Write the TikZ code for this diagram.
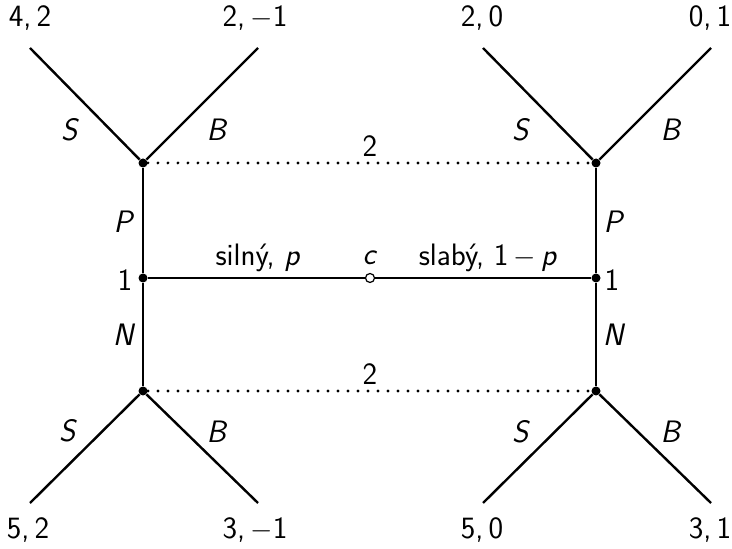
\documentclass[tikz,border=0pt]{standalone}
\usepackage{fontspec}
\begin{document}
\begin{tikzpicture}[x=0.5pt, y=-0.5pt, font=\sffamily\fontsize{15.5}{18}\selectfont,
    edge/.style={line width=1.2pt},
    infoset/.style={line width=1.6pt, line cap=round, dash pattern=on 0pt off 5pt},
    dot/.style={circle, fill, inner sep=0pt, minimum size=4.5pt},
    chance/.style={circle, draw, fill=white, line width=0.6pt, inner sep=0pt, minimum size=4.5pt},
    lbl/.style={inner sep=1pt}]
  \useasboundingbox (0,0) rectangle (732,549);

  % decision nodes
  \node[chance] (c) at (370,278) {};
  \node[dot] (L1) at (143,278) {};
  \node[dot] (R1) at (596,278) {};
  \node[dot] (LP) at (143,163) {};
  \node[dot] (LN) at (143,391) {};
  \node[dot] (RP) at (596,163) {};
  \node[dot] (RN) at (596,391) {};

  % leaf ends
  \coordinate (LPS) at (30,48);   \coordinate (LPB) at (258,48);
  \coordinate (RPS) at (483,48);  \coordinate (RPB) at (711,48);
  \coordinate (LNS) at (30,503);  \coordinate (LNB) at (258,503);
  \coordinate (RNS) at (483,503); \coordinate (RNB) at (711,503);

  % edges
  \draw[edge] (c) -- (L1);
  \draw[edge] (c) -- (R1);
  \draw[edge] (L1) -- (LP);
  \draw[edge] (L1) -- (LN);
  \draw[edge] (R1) -- (RP);
  \draw[edge] (R1) -- (RN);
  \draw[edge] (LP) -- (LPS);
  \draw[edge] (LP) -- (LPB);
  \draw[edge] (RP) -- (RPS);
  \draw[edge] (RP) -- (RPB);
  \draw[edge] (LN) -- (LNS);
  \draw[edge] (LN) -- (LNB);
  \draw[edge] (RN) -- (RNS);
  \draw[edge] (RN) -- (RNB);

  % information sets
  \draw[infoset] (LP) -- (RP);
  \draw[infoset] (LN) -- (RN);

  % labels
  \node[lbl] (i2a) at (370,146) {2};
  \node[lbl] (i2b) at (370,374) {2};
  \node[lbl] (nc) at (370,258) {\textit{c}};
  \node[lbl] (ns) at (258,258) {silný, \textit{p}};
  \node[lbl] (nw) at (488,258) {slabý, 1\,$-$\,\textit{p}};
  \node[lbl] (n1l) at (125,280) {1};
  \node[lbl] (n1r) at (612,280) {1};
  \node[lbl] (aLP) at (124,222) {\textit{P}};
  \node[lbl] (aLN) at (124,335) {\textit{N}};
  \node[lbl] (aRP) at (614,222) {\textit{P}};
  \node[lbl] (aRN) at (614,335) {\textit{N}};
  \node[lbl] (sLP) at (70,130) {\textit{S}};
  \node[lbl] (bLP) at (217,130) {\textit{B}};
  \node[lbl] (sRP) at (521,130) {\textit{S}};
  \node[lbl] (bRP) at (671,130) {\textit{B}};
  \node[lbl] (sLN) at (68,431) {\textit{S}};
  \node[lbl] (bLN) at (217,432) {\textit{B}};
  \node[lbl] (sRN) at (521,432) {\textit{S}};
  \node[lbl] (bRN) at (671,432) {\textit{B}};

  % payoffs
  \node[lbl] (pLPS) at (30,18) {4,\,2};
  \node[lbl] (pLPB) at (255,18) {2,\,$-$1};
  \node[lbl] (pRPS) at (482,18) {2,\,0};
  \node[lbl] (pRPB) at (710,18) {0,\,1};
  \node[lbl] (pLNS) at (28,530) {5,\,2};
  \node[lbl] (pLNB) at (255,530) {3,\,$-$1};
  \node[lbl] (pRNS) at (482,530) {5,\,0};
  \node[lbl] (pRNB) at (710,530) {3,\,1};
\end{tikzpicture}
\end{document}
